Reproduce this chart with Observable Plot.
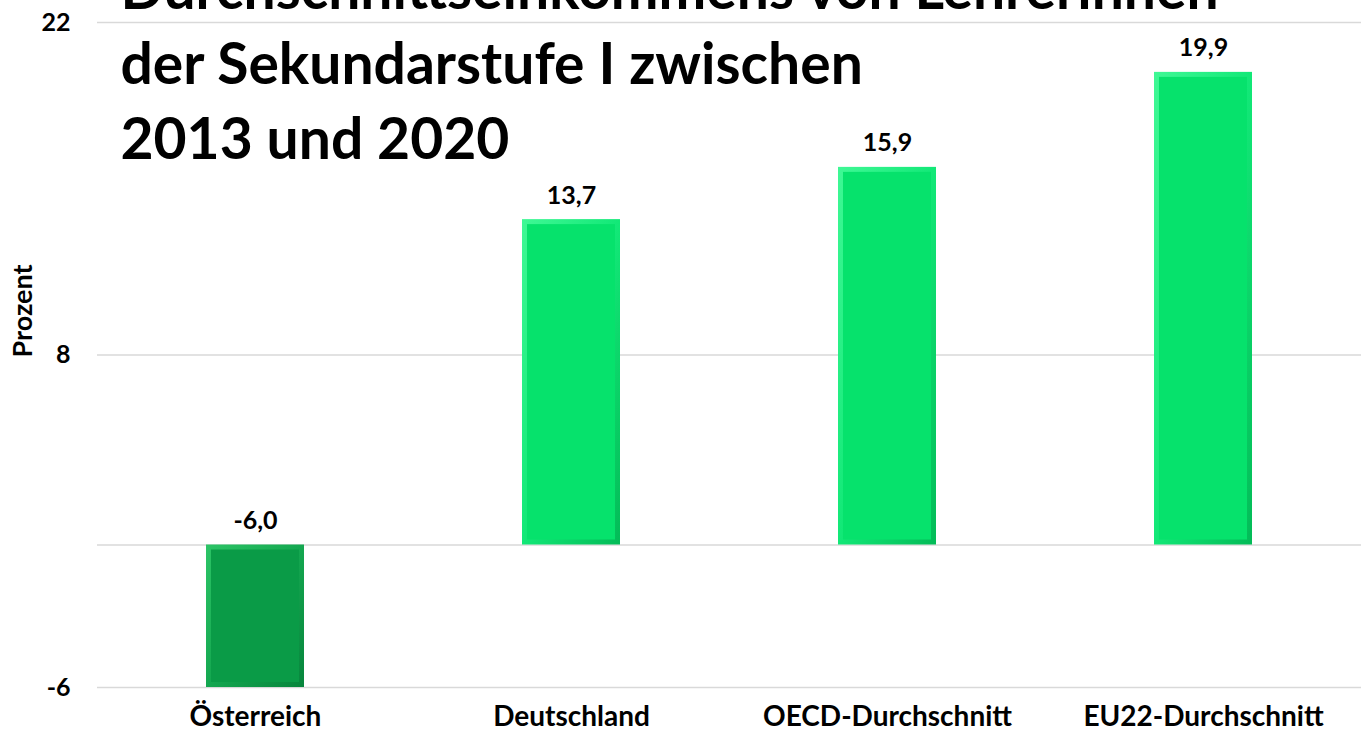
<!DOCTYPE html>
<html>
<head>
<meta charset="utf-8">
<script src="https://cdn.jsdelivr.net/npm/d3@7"></script>
<script src="https://cdn.jsdelivr.net/npm/@observablehq/plot@0.6"></script>
<style>
  html, body { margin: 0; padding: 0; background: #fff; }
  #chart { position: relative; width: 1361px; height: 731px; overflow: hidden; }
</style>
</head>
<body>
<div id="chart"></div>
<script>
const categories = ["Österreich", "Deutschland", "OECD-Durchschnitt", "EU22-Durchschnitt"];
const values = [-6.0, 13.7, 15.9, 19.9];
const yTicks = [22, 8, -6];
const titleLines = ["Durchschnittseinkommens von Lehrerinnen", "der Sekundarstufe I zwischen", "2013 und 2020"];
const yLabel = "Prozent";

const data = categories.map((land, i) => ({land, value: values[i]}));

const innerFill = {
  "Österreich": "#0a9b47",
  "Deutschland": "#06e26c",
  "OECD-Durchschnitt": "#06e26c",
  "EU22-Durchschnitt": "#06e26c"
};
const edgeFill = {
  "Österreich": "url(#bevelDark)",
  "Deutschland": "url(#bevelBright)",
  "OECD-Durchschnitt": "url(#bevelBright)",
  "EU22-Durchschnitt": "url(#bevelBright)"
};
const fmt = v => v.toFixed(1).replace(".", ",");

const FONT = "Lato, 'Open Sans', sans-serif";
const TITLE_SIZE = 57;

const chart = Plot.plot({
  width: 1361,
  height: 731,
  marginTop: 22,
  marginBottom: 44,
  marginLeft: 97,
  marginRight: 0,
  style: {fontFamily: FONT, fontWeight: "bold", color: "#000", background: "#fff", overflow: "hidden"},
  x: {domain: categories, paddingInner: 0.69, paddingOuter: 0.345, label: null},
  y: {domain: [-6, 22], label: null},
  color: {type: "identity"},
  marks: [
    Plot.gridY(yTicks, {stroke: "#d9d9d9", strokeOpacity: 1, strokeWidth: 1.5}),
    Plot.ruleY([0], {stroke: "#d9d9d9", strokeWidth: 1.5}),
    Plot.barY(data, {x: "land", y: "value", fill: d => edgeFill[d.land]}),
    Plot.barY(data, {x: "land", y: "value", fill: d => innerFill[d.land], inset: 5}),
    Plot.text(data, {x: "land", y: d => Math.max(d.value, 0), text: d => fmt(d.value),
      lineAnchor: "bottom", dy: -16, fontSize: 25, fontWeight: "bold", fill: "#000"}),
    Plot.axisX({tickSize: 0, tickPadding: 19, fontSize: 28, fontWeight: "bold", label: null}),
    Plot.axisY({ticks: yTicks, tickSize: 0, tickPadding: 27, fontSize: 25, fontWeight: "bold",
      label: null, tickFormat: d => String(d)}),
    Plot.text([yLabel], {frameAnchor: "left", textAnchor: "middle", rotate: -90, dx: -74, dy: -44,
      fontSize: 27, fontWeight: "bold", fill: "#000"}),
    Plot.text([titleLines.join("\n")], {frameAnchor: "top-left", textAnchor: "start", lineAnchor: "top",
      lineHeight: 75 / TITLE_SIZE, dx: 23, dy: -10 - TITLE_SIZE,
      fontSize: TITLE_SIZE, fontWeight: "bold", fill: "#000"})
  ]
});

const defs = d3.select(chart).insert("defs", ":first-child");
function addGrad(id, light, mid, dark) {
  const g = defs.append("linearGradient").attr("id", id)
    .attr("x1", 0).attr("y1", 0).attr("x2", 1).attr("y2", 1);
  g.append("stop").attr("offset", "0%").attr("stop-color", light);
  g.append("stop").attr("offset", "50%").attr("stop-color", mid);
  g.append("stop").attr("offset", "100%").attr("stop-color", dark);
}
addGrad("bevelDark", "#2cc466", "#14a750", "#07853c");
addGrad("bevelBright", "#3ff895", "#12e877", "#03bb57");

document.getElementById("chart").appendChild(chart);
</script>
</body>
</html>
